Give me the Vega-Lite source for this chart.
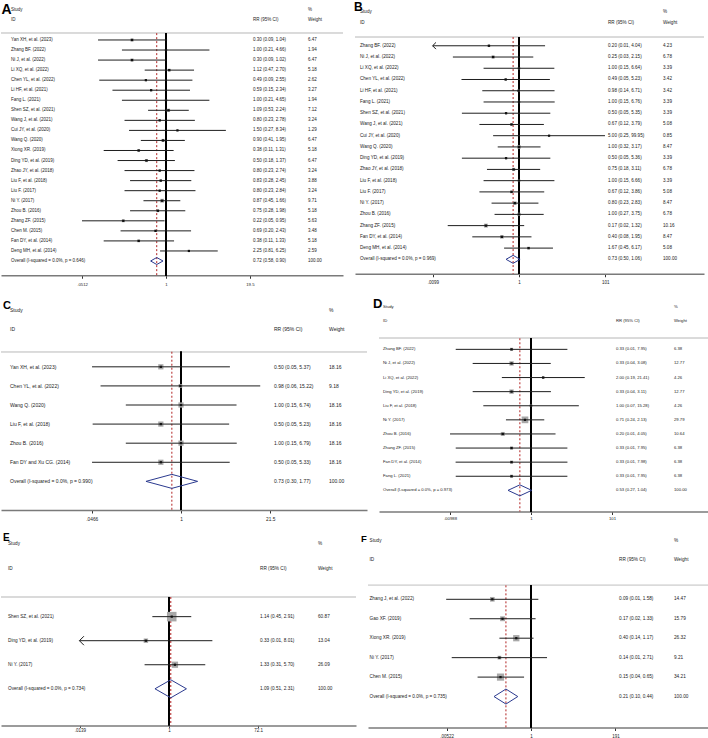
{
"$schema": "https://vega.github.io/schema/vega-lite/v6.json",
"padding": 0,
"background": "white",
"spacing": 11,
"config": {"view": {"stroke": null}, "font": "Liberation Sans", "text": {"font": "Liberation Sans"}, "axis": {"labelFont": "Liberation Sans", "grid": false, "domainColor": "#7a7a7a", "domainWidth": 1.5, "tickColor": "#333333", "tickWidth": 1, "labelColor": "#222222", "labelFlush": false, "labelOverlap": false}},
"vconcat": [
{"hconcat": [
{
"width": 342, "height": 271.25,
"data": {"values": [
{"id": "Study", "h3": "%"},
{"id": "ID", "h2": "RR (95% CI)", "h3": "Weight"},
{"id": " "},
{"id": "Yan XH, et al. (2023)", "rr": 0.30, "lo": 0.09, "hi": 1.04, "w": 6.47},
{"id": "Zhang BF. (2022)", "rr": 1.00, "lo": 0.21, "hi": 4.66, "w": 1.94},
{"id": "Ni J, et al. (2022)", "rr": 0.30, "lo": 0.09, "hi": 1.02, "w": 6.47},
{"id": "Li XQ, et al. (2022)", "rr": 1.12, "lo": 0.47, "hi": 2.70, "w": 5.18},
{"id": "Chen YL, et al. (2022)", "rr": 0.49, "lo": 0.094, "hi": 2.55, "w": 2.62},
{"id": "Li HF, et al. (2021)", "rr": 0.59, "lo": 0.15, "hi": 2.34, "w": 3.27},
{"id": "Fang L. (2021)", "rr": 1.00, "lo": 0.21, "hi": 4.65, "w": 1.94},
{"id": "Shen SZ, et al. (2021)", "rr": 1.09, "lo": 0.53, "hi": 2.24, "w": 7.12},
{"id": "Wang J, et al. (2021)", "rr": 0.80, "lo": 0.23, "hi": 2.78, "w": 3.24},
{"id": "Cui JY, et al. (2020)", "rr": 1.50, "lo": 0.27, "hi": 8.34, "w": 1.29},
{"id": "Wang Q. (2020)", "rr": 0.90, "lo": 0.41, "hi": 1.95, "w": 6.47},
{"id": "Xiong XR. (2019)", "rr": 0.38, "lo": 0.11, "hi": 1.31, "w": 5.18},
{"id": "Ding YD, et al. (2019)", "rr": 0.50, "lo": 0.18, "hi": 1.37, "w": 6.47},
{"id": "Zhao JY, et al. (2018)", "rr": 0.80, "lo": 0.23, "hi": 2.74, "w": 3.24},
{"id": "Liu F, et al. (2018)", "rr": 0.83, "lo": 0.28, "hi": 2.45, "w": 3.88},
{"id": "Liu F. (2017)", "rr": 0.80, "lo": 0.23, "hi": 2.84, "w": 3.24},
{"id": "Ni Y. (2017)", "rr": 0.87, "lo": 0.45, "hi": 1.66, "w": 9.71},
{"id": "Zhou B. (2016)", "rr": 0.75, "lo": 0.28, "hi": 1.98, "w": 5.18},
{"id": "Zhang ZF. (2015)", "rr": 0.22, "lo": 0.051, "hi": 0.95, "w": 5.63},
{"id": "Chen M. (2015)", "rr": 0.69, "lo": 0.20, "hi": 2.43, "w": 3.48},
{"id": "Fan DY, et al. (2014)", "rr": 0.38, "lo": 0.11, "hi": 1.33, "w": 5.18},
{"id": "Deng MH, et al. (2014)", "rr": 2.25, "lo": 0.81, "hi": 6.25, "w": 2.59},
{"id": "Overall  (I-squared = 0.0%, p = 0.646)", "rr": 0.72, "lo": 0.58, "hi": 0.90, "w": 100, "ov": true}
]},
"transform": [
{"calculate": "isValid(datum.rr) ? format(datum.rr,'.2f') + ' (' + format(datum.lo,'.2f') + ', ' + format(datum.hi,'.2f') + ')' : (datum.h2 || '')", "as": "t2"},
{"calculate": "isValid(datum.w) ? format(datum.w,'.2f') : (datum.h3 || '')", "as": "t3"}
],
"encoding": {"y": {"field": "id", "type": "nominal", "sort": null, "axis": null, "scale": {"type": "point", "padding": 1.4103, "align": 0.2909}}},
"layer": [
{"layer": [
{"mark": {"type": "text", "align": "left", "baseline": "middle", "fontSize": 4.5, "color": "#222222"}, "encoding": {"x": {"datum": 2.92, "type": "quantitative", "scale": {"domain": [0, 100], "nice": false}, "axis": null}, "text": {"field": "id"}}},
{"mark": {"type": "text", "align": "left", "baseline": "middle", "fontSize": 4.5, "color": "#222222"}, "encoding": {"x": {"datum": 73.68, "type": "quantitative"}, "text": {"field": "t2"}}},
{"mark": {"type": "text", "align": "left", "baseline": "middle", "fontSize": 4.5, "color": "#222222"}, "encoding": {"x": {"datum": 89.77, "type": "quantitative"}, "text": {"field": "t3"}}},
{"data": {"values": [{"panel": "A"}]}, "mark": {"type": "text", "align": "left", "baseline": "alphabetic", "fontSize": 14, "fontWeight": "bold", "color": "#000000", "dy": 4}, "encoding": {"x": {"datum": 0.15, "type": "quantitative"}, "y": {"datum": "Study", "type": "nominal"}, "text": {"field": "panel"}}}
]},
{"layer": [
{"mark": {"type": "rule", "color": "#dadada", "strokeWidth": 1, "yOffset": 3.2}, "encoding": {"y": {"datum": " ", "type": "nominal"}}},
{"mark": {"type": "rule", "color": "#000000", "strokeWidth": 1, "yOffset": 3.2}, "encoding": {"x": {"datum": 1, "type": "quantitative", "title": null, "scale": {"type": "log", "domain": [0.002893, 528.6], "nice": false}, "axis": {"orient": "bottom", "values": [0.0512, 1, 19.5], "format": "~g", "labelExpr": "replace(datum.label, '0.', '.')", "labelFontSize": 4.3, "labelPadding": 4, "tickSize": 3, "title": null}}, "y": {"datum": " ", "type": "nominal"}, "y2": {"value": "height"}}},
{"transform": [{"filter": "datum.ov === true"}], "mark": {"type": "rule", "color": "#b22222", "strokeWidth": 1, "strokeDash": [2, 2], "yOffset": 3.2}, "encoding": {"x": {"field": "rr", "type": "quantitative", "title": null}, "y": {"datum": " ", "type": "nominal"}, "y2": {"value": "height"}}},
{"transform": [{"filter": "isValid(datum.rr) && datum.ov !== true"}], "mark": {"type": "point", "shape": "square", "filled": true, "color": "#a8a8a8", "opacity": 1}, "encoding": {"x": {"field": "rr", "type": "quantitative", "title": null}, "size": {"field": "w", "type": "quantitative", "scale": {"domain": [0, 10], "range": [0, 90]}, "legend": null}}},
{"transform": [{"filter": "isValid(datum.rr) && datum.ov !== true"}], "mark": {"type": "rule", "color": "#1e1e1e", "strokeWidth": 1}, "encoding": {"x": {"field": "lo", "type": "quantitative", "title": null}, "x2": {"field": "hi"}}},
{"transform": [{"filter": "isValid(datum.rr) && datum.ov !== true"}], "mark": {"type": "point", "shape": "square", "filled": true, "color": "#111111", "size": 5, "opacity": 1}, "encoding": {"x": {"field": "rr", "type": "quantitative", "title": null}}},
{"transform": [{"filter": "datum.ov === true"}], "mark": {"type": "rule", "color": "#2b3a8f", "strokeWidth": 1, "y2Offset": -3.5}, "encoding": {"x": {"field": "lo", "type": "quantitative", "title": null}, "x2": {"field": "rr"}, "y2": {"field": "id"}}},
{"transform": [{"filter": "datum.ov === true"}], "mark": {"type": "rule", "color": "#2b3a8f", "strokeWidth": 1, "y2Offset": 3.5}, "encoding": {"x": {"field": "lo", "type": "quantitative", "title": null}, "x2": {"field": "rr"}, "y2": {"field": "id"}}},
{"transform": [{"filter": "datum.ov === true"}], "mark": {"type": "rule", "color": "#2b3a8f", "strokeWidth": 1, "yOffset": -3.5}, "encoding": {"x": {"field": "rr", "type": "quantitative", "title": null}, "x2": {"field": "hi"}, "y2": {"field": "id"}}},
{"transform": [{"filter": "datum.ov === true"}], "mark": {"type": "rule", "color": "#2b3a8f", "strokeWidth": 1, "yOffset": 3.5}, "encoding": {"x": {"field": "rr", "type": "quantitative", "title": null}, "x2": {"field": "hi"}, "y2": {"field": "id"}}}
]}
],
"resolve": {"scale": {"x": "independent"}}
},
{
"width": 349, "height": 269.76,
"data": {"values": [
{"id": "Study", "h3": "%"},
{"id": "ID", "h2": "RR (95% CI)", "h3": "Weight"},
{"id": " "},
{"id": "Zhang BF. (2022)", "rr": 0.20, "lo": 0.0098, "hi": 4.04, "w": 4.23},
{"id": "Ni J, et al. (2022)", "rr": 0.25, "lo": 0.029, "hi": 2.15, "w": 6.78},
{"id": "Li XQ, et al. (2022)", "rr": 1.00, "lo": 0.15, "hi": 6.64, "w": 3.39},
{"id": "Chen YL, et al. (2022)", "rr": 0.49, "lo": 0.046, "hi": 5.23, "w": 3.42},
{"id": "Li HF, et al. (2021)", "rr": 0.98, "lo": 0.14, "hi": 6.71, "w": 3.42},
{"id": "Fang L. (2021)", "rr": 1.00, "lo": 0.15, "hi": 6.76, "w": 3.39},
{"id": "Shen SZ, et al. (2021)", "rr": 0.50, "lo": 0.047, "hi": 5.35, "w": 3.39},
{"id": "Wang J, et al. (2021)", "rr": 0.67, "lo": 0.12, "hi": 3.79, "w": 5.08},
{"id": "Cui JY, et al. (2020)", "rr": 5.00, "lo": 0.25, "hi": 99.95, "w": 0.85},
{"id": "Wang Q. (2020)", "rr": 1.00, "lo": 0.32, "hi": 3.17, "w": 8.47},
{"id": "Ding YD, et al. (2019)", "rr": 0.50, "lo": 0.047, "hi": 5.36, "w": 3.39},
{"id": "Zhao JY, et al. (2018)", "rr": 0.75, "lo": 0.18, "hi": 3.11, "w": 6.78},
{"id": "Liu F, et al. (2018)", "rr": 1.00, "lo": 0.15, "hi": 6.66, "w": 3.39},
{"id": "Liu F. (2017)", "rr": 0.67, "lo": 0.12, "hi": 3.86, "w": 5.08},
{"id": "Ni Y. (2017)", "rr": 0.80, "lo": 0.23, "hi": 2.83, "w": 8.47},
{"id": "Zhou B. (2016)", "rr": 1.00, "lo": 0.27, "hi": 3.75, "w": 6.78},
{"id": "Zhang ZF. (2015)", "rr": 0.17, "lo": 0.022, "hi": 1.32, "w": 10.16},
{"id": "Fan DY, et al. (2014)", "rr": 0.40, "lo": 0.082, "hi": 1.95, "w": 8.47},
{"id": "Deng MH, et al. (2014)", "rr": 1.67, "lo": 0.45, "hi": 6.17, "w": 5.08},
{"id": "Overall  (I-squared = 0.0%, p = 0.969)", "rr": 0.73, "lo": 0.50, "hi": 1.06, "w": 100, "ov": true}
]},
"transform": [
{"calculate": "isValid(datum.rr) ? format(datum.rr,'.2f') + ' (' + format(datum.lo,'.2f') + ', ' + format(datum.hi,'.2f') + ')' : (datum.h2 || '')", "as": "t2"},
{"calculate": "isValid(datum.w) ? format(datum.w,'.2f') : (datum.h3 || '')", "as": "t3"}
],
"encoding": {"y": {"field": "id", "type": "nominal", "sort": null, "axis": null, "scale": {"type": "point", "padding": 1.5587, "align": 0.3584}}},
"layer": [
{"layer": [
{"mark": {"type": "text", "align": "left", "baseline": "middle", "fontSize": 4.6, "color": "#222222"}, "encoding": {"x": {"datum": 1.43, "type": "quantitative", "scale": {"domain": [0, 100], "nice": false}, "axis": null}, "text": {"field": "id"}}},
{"mark": {"type": "text", "align": "left", "baseline": "middle", "fontSize": 4.6, "color": "#222222"}, "encoding": {"x": {"datum": 72.49, "type": "quantitative"}, "text": {"field": "t2"}}},
{"mark": {"type": "text", "align": "left", "baseline": "middle", "fontSize": 4.6, "color": "#222222"}, "encoding": {"x": {"datum": 88.25, "type": "quantitative"}, "text": {"field": "t3"}}},
{"data": {"values": [{"panel": "B"}]}, "mark": {"type": "text", "align": "left", "baseline": "alphabetic", "fontSize": 12, "fontWeight": "bold", "color": "#000000", "dy": -1.5}, "encoding": {"x": {"datum": -0.3, "type": "quantitative"}, "y": {"datum": "Study", "type": "nominal"}, "text": {"field": "panel"}}}
]},
{"layer": [
{"mark": {"type": "rule", "color": "#dadada", "strokeWidth": 1, "yOffset": 2.5}, "encoding": {"y": {"datum": " ", "type": "nominal"}}},
{"mark": {"type": "rule", "color": "#000000", "strokeWidth": 1, "yOffset": 2.5}, "encoding": {"x": {"datum": 1, "type": "quantitative", "title": null, "scale": {"type": "log", "domain": [0.0001535, 20060], "nice": false}, "axis": {"orient": "bottom", "values": [0.0099, 1, 101], "format": "~g", "labelExpr": "replace(datum.label, '0.', '.')", "labelFontSize": 4.5, "labelPadding": 2.5, "tickSize": 3, "title": null}}, "y": {"datum": " ", "type": "nominal"}, "y2": {"value": "height"}}},
{"transform": [{"filter": "datum.ov === true"}], "mark": {"type": "rule", "color": "#b22222", "strokeWidth": 1, "strokeDash": [2, 2], "yOffset": 2.5}, "encoding": {"x": {"field": "rr", "type": "quantitative", "title": null}, "y": {"datum": " ", "type": "nominal"}, "y2": {"value": "height"}}},
{"transform": [{"filter": "isValid(datum.rr) && datum.ov !== true"}], "mark": {"type": "point", "shape": "square", "filled": true, "color": "#a8a8a8", "opacity": 1}, "encoding": {"x": {"field": "rr", "type": "quantitative", "title": null}, "size": {"field": "w", "type": "quantitative", "scale": {"domain": [0, 10], "range": [0, 135]}, "legend": null}}},
{"transform": [{"filter": "isValid(datum.rr) && datum.ov !== true"}], "mark": {"type": "rule", "color": "#1e1e1e", "strokeWidth": 1}, "encoding": {"x": {"field": "lo", "type": "quantitative", "title": null}, "x2": {"field": "hi"}}},
{"transform": [{"filter": "isValid(datum.rr) && datum.ov !== true"}], "mark": {"type": "point", "shape": "square", "filled": true, "color": "#111111", "size": 5, "opacity": 1}, "encoding": {"x": {"field": "rr", "type": "quantitative", "title": null}}},
{"transform": [{"filter": "isValid(datum.lo) && datum.lo < 0.0099"}], "mark": {"type": "point", "shape": "M1,-1L0,0L1,1", "filled": false, "stroke": "#1e1e1e", "strokeWidth": 1, "size": 45, "opacity": 1}, "encoding": {"x": {"field": "lo", "type": "quantitative", "title": null}}},
{"transform": [{"filter": "datum.ov === true"}], "mark": {"type": "rule", "color": "#2b3a8f", "strokeWidth": 1, "y2Offset": -4}, "encoding": {"x": {"field": "lo", "type": "quantitative", "title": null}, "x2": {"field": "rr"}, "y2": {"field": "id"}}},
{"transform": [{"filter": "datum.ov === true"}], "mark": {"type": "rule", "color": "#2b3a8f", "strokeWidth": 1, "y2Offset": 4}, "encoding": {"x": {"field": "lo", "type": "quantitative", "title": null}, "x2": {"field": "rr"}, "y2": {"field": "id"}}},
{"transform": [{"filter": "datum.ov === true"}], "mark": {"type": "rule", "color": "#2b3a8f", "strokeWidth": 1, "yOffset": -4}, "encoding": {"x": {"field": "rr", "type": "quantitative", "title": null}, "x2": {"field": "hi"}, "y2": {"field": "id"}}},
{"transform": [{"filter": "datum.ov === true"}], "mark": {"type": "rule", "color": "#2b3a8f", "strokeWidth": 1, "yOffset": 4}, "encoding": {"x": {"field": "rr", "type": "quantitative", "title": null}, "x2": {"field": "hi"}, "y2": {"field": "id"}}}
]}
],
"resolve": {"scale": {"x": "independent"}}
}
], "spacing": 12, "bounds": "flush"},
{"hconcat": [
{
"width": 366, "height": 210,
"data": {"values": [
{"id": "Study", "h3": "%"},
{"id": "ID", "h2": "RR (95% CI)", "h3": "Weight"},
{"id": " "},
{"id": "Yan XH, et al. (2023)", "rr": 0.50, "lo": 0.047, "hi": 5.37, "w": 18.16},
{"id": "Chen YL, et al. (2022)", "rr": 0.98, "lo": 0.063, "hi": 15.22, "w": 9.18},
{"id": "Wang Q. (2020)", "rr": 1.00, "lo": 0.15, "hi": 6.74, "w": 18.16},
{"id": "Liu F, et al. (2018)", "rr": 0.50, "lo": 0.048, "hi": 5.23, "w": 18.16},
{"id": "Zhou B. (2016)", "rr": 1.00, "lo": 0.15, "hi": 6.79, "w": 18.16},
{"id": "Fan DY and Xu CG. (2014)", "rr": 0.50, "lo": 0.047, "hi": 5.33, "w": 18.16},
{"id": "Overall  (I-squared = 0.0%, p = 0.990)", "rr": 0.73, "lo": 0.30, "hi": 1.77, "w": 100, "ov": true}
]},
"transform": [
{"calculate": "isValid(datum.rr) ? format(datum.rr,'.2f') + ' (' + format(datum.lo,'.2f') + ', ' + format(datum.hi,'.2f') + ')' : (datum.h2 || '')", "as": "t2"},
{"calculate": "isValid(datum.w) ? format(datum.w,'.2f') : (datum.h3 || '')", "as": "t3"}
],
"encoding": {"y": {"field": "id", "type": "nominal", "sort": null, "axis": null, "scale": {"type": "point", "padding": 1.3333, "align": 0.25}}},
"layer": [
{"layer": [
{"mark": {"type": "text", "align": "left", "baseline": "middle", "fontSize": 5, "color": "#222222"}, "encoding": {"x": {"datum": 2.46, "type": "quantitative", "scale": {"domain": [0, 100], "nice": false}, "axis": null}, "text": {"field": "id"}}},
{"mark": {"type": "text", "align": "left", "baseline": "middle", "fontSize": 5, "color": "#222222"}, "encoding": {"x": {"datum": 74.59, "type": "quantitative"}, "text": {"field": "t2"}}},
{"mark": {"type": "text", "align": "left", "baseline": "middle", "fontSize": 5, "color": "#222222"}, "encoding": {"x": {"datum": 89.62, "type": "quantitative"}, "text": {"field": "t3"}}},
{"data": {"values": [{"panel": "C"}]}, "mark": {"type": "text", "align": "left", "baseline": "alphabetic", "fontSize": 11, "fontWeight": "bold", "color": "#000000", "dy": -1}, "encoding": {"x": {"datum": 0.55, "type": "quantitative"}, "y": {"datum": "Study", "type": "nominal"}, "text": {"field": "panel"}}}
]},
{"layer": [
{"mark": {"type": "rule", "color": "#dadada", "strokeWidth": 1, "yOffset": 4}, "encoding": {"y": {"datum": " ", "type": "nominal"}}},
{"mark": {"type": "rule", "color": "#000000", "strokeWidth": 1, "yOffset": 4}, "encoding": {"x": {"datum": 1, "type": "quantitative", "title": null, "scale": {"type": "log", "domain": [0.002058, 597], "nice": false}, "axis": {"orient": "bottom", "values": [0.0466, 1, 21.5], "format": "~g", "labelExpr": "replace(datum.label, '0.', '.')", "labelFontSize": 4.8, "labelPadding": 3, "tickSize": 3, "title": null}}, "y": {"datum": " ", "type": "nominal"}, "y2": {"value": "height"}}},
{"transform": [{"filter": "datum.ov === true"}], "mark": {"type": "rule", "color": "#b22222", "strokeWidth": 1, "strokeDash": [2, 2], "yOffset": 4}, "encoding": {"x": {"field": "rr", "type": "quantitative", "title": null}, "y": {"datum": " ", "type": "nominal"}, "y2": {"value": "height"}}},
{"transform": [{"filter": "isValid(datum.rr) && datum.ov !== true"}], "mark": {"type": "point", "shape": "square", "filled": true, "color": "#a8a8a8", "opacity": 1}, "encoding": {"x": {"field": "rr", "type": "quantitative", "title": null}, "size": {"field": "w", "type": "quantitative", "scale": {"domain": [0, 20], "range": [0, 20.6]}, "legend": null}}},
{"transform": [{"filter": "isValid(datum.rr) && datum.ov !== true"}], "mark": {"type": "rule", "color": "#1e1e1e", "strokeWidth": 1}, "encoding": {"x": {"field": "lo", "type": "quantitative", "title": null}, "x2": {"field": "hi"}}},
{"transform": [{"filter": "isValid(datum.rr) && datum.ov !== true"}], "mark": {"type": "point", "shape": "square", "filled": true, "color": "#111111", "size": 5, "opacity": 1}, "encoding": {"x": {"field": "rr", "type": "quantitative", "title": null}}},
{"transform": [{"filter": "datum.ov === true"}], "mark": {"type": "rule", "color": "#2b3a8f", "strokeWidth": 1, "y2Offset": -7}, "encoding": {"x": {"field": "lo", "type": "quantitative", "title": null}, "x2": {"field": "rr"}, "y2": {"field": "id"}}},
{"transform": [{"filter": "datum.ov === true"}], "mark": {"type": "rule", "color": "#2b3a8f", "strokeWidth": 1, "y2Offset": 7}, "encoding": {"x": {"field": "lo", "type": "quantitative", "title": null}, "x2": {"field": "rr"}, "y2": {"field": "id"}}},
{"transform": [{"filter": "datum.ov === true"}], "mark": {"type": "rule", "color": "#2b3a8f", "strokeWidth": 1, "yOffset": -7}, "encoding": {"x": {"field": "rr", "type": "quantitative", "title": null}, "x2": {"field": "hi"}, "y2": {"field": "id"}}},
{"transform": [{"filter": "datum.ov === true"}], "mark": {"type": "rule", "color": "#2b3a8f", "strokeWidth": 1, "yOffset": 7}, "encoding": {"x": {"field": "rr", "type": "quantitative", "title": null}, "x2": {"field": "hi"}, "y2": {"field": "id"}}}
]}
],
"resolve": {"scale": {"x": "independent"}}
},
{
"width": 330, "height": 211.5,
"data": {"values": [
{"id": "Study", "h3": "%"},
{"id": "ID", "h2": "RR (95% CI)", "h3": "Weight"},
{"id": " "},
{"id": "Zhang BF. (2022)", "rr": 0.33, "lo": 0.0137, "hi": 7.95, "w": 6.38},
{"id": "Ni J, et al. (2022)", "rr": 0.33, "lo": 0.036, "hi": 3.08, "w": 12.77},
{"id": "Li XQ, et al. (2022)", "rr": 2.00, "lo": 0.19, "hi": 21.41, "w": 4.26},
{"id": "Ding YD, et al. (2019)", "rr": 0.33, "lo": 0.036, "hi": 3.11, "w": 12.77},
{"id": "Liu F, et al. (2018)", "rr": 1.00, "lo": 0.066, "hi": 15.28, "w": 4.26},
{"id": "Ni Y. (2017)", "rr": 0.71, "lo": 0.24, "hi": 2.13, "w": 29.79},
{"id": "Zhou B. (2016)", "rr": 0.20, "lo": 0.0099, "hi": 4.05, "w": 10.64},
{"id": "Zhang ZF. (2015)", "rr": 0.33, "lo": 0.0137, "hi": 7.95, "w": 6.38},
{"id": "Fan DY, et al. (2014)", "rr": 0.33, "lo": 0.0136, "hi": 7.98, "w": 6.38},
{"id": "Fang L. (2021)", "rr": 0.33, "lo": 0.0137, "hi": 7.95, "w": 6.38},
{"id": "Overall  (I-squared = 0.0%, p = 0.973)", "rr": 0.53, "lo": 0.27, "hi": 1.04, "w": 100, "ov": true}
]},
"transform": [
{"calculate": "isValid(datum.rr) ? format(datum.rr,'.2f') + ' (' + format(datum.lo,'.2f') + ', ' + format(datum.hi,'.2f') + ')' : (datum.h2 || '')", "as": "t2"},
{"calculate": "isValid(datum.w) ? format(datum.w,'.2f') : (datum.h3 || '')", "as": "t3"}
],
"encoding": {"y": {"field": "id", "type": "nominal", "sort": null, "axis": null, "scale": {"type": "point", "padding": 1.3333, "align": 0.25}}},
"layer": [
{"layer": [
{"mark": {"type": "text", "align": "left", "baseline": "middle", "fontSize": 4.2, "color": "#222222"}, "encoding": {"x": {"datum": 1.21, "type": "quantitative", "scale": {"domain": [0, 100], "nice": false}, "axis": null}, "text": {"field": "id"}}},
{"mark": {"type": "text", "align": "left", "baseline": "middle", "fontSize": 4.2, "color": "#222222"}, "encoding": {"x": {"datum": 71.82, "type": "quantitative"}, "text": {"field": "t2"}}},
{"mark": {"type": "text", "align": "left", "baseline": "middle", "fontSize": 4.2, "color": "#222222"}, "encoding": {"x": {"datum": 89.39, "type": "quantitative"}, "text": {"field": "t3"}}},
{"data": {"values": [{"panel": "D"}]}, "mark": {"type": "text", "align": "left", "baseline": "alphabetic", "fontSize": 13, "fontWeight": "bold", "color": "#000000", "dy": 1}, "encoding": {"x": {"datum": -1.82, "type": "quantitative"}, "y": {"datum": "Study", "type": "nominal"}, "text": {"field": "panel"}}}
]},
{"layer": [
{"mark": {"type": "rule", "color": "#dadada", "strokeWidth": 1, "yOffset": 3}, "encoding": {"y": {"datum": " ", "type": "nominal"}}},
{"mark": {"type": "rule", "color": "#000000", "strokeWidth": 1, "yOffset": 3}, "encoding": {"x": {"datum": 1, "type": "quantitative", "title": null, "scale": {"type": "log", "domain": [0.0001728, 25460], "nice": false}, "axis": {"orient": "bottom", "values": [0.00988, 1, 101], "format": "~g", "labelExpr": "replace(datum.label, '0.', '.')", "labelFontSize": 4.3, "labelPadding": 1.5, "tickSize": 3, "title": null}}, "y": {"datum": " ", "type": "nominal"}, "y2": {"value": "height"}}},
{"transform": [{"filter": "datum.ov === true"}], "mark": {"type": "rule", "color": "#b22222", "strokeWidth": 1, "strokeDash": [2, 2], "yOffset": 3}, "encoding": {"x": {"field": "rr", "type": "quantitative", "title": null}, "y": {"datum": " ", "type": "nominal"}, "y2": {"value": "height"}}},
{"transform": [{"filter": "isValid(datum.rr) && datum.ov !== true"}], "mark": {"type": "point", "shape": "square", "filled": true, "color": "#a8a8a8", "opacity": 1}, "encoding": {"x": {"field": "rr", "type": "quantitative", "title": null}, "size": {"field": "w", "type": "quantitative", "scale": {"domain": [0, 30], "range": [0, 54]}, "legend": null}}},
{"transform": [{"filter": "isValid(datum.rr) && datum.ov !== true"}], "mark": {"type": "rule", "color": "#1e1e1e", "strokeWidth": 1}, "encoding": {"x": {"field": "lo", "type": "quantitative", "title": null}, "x2": {"field": "hi"}}},
{"transform": [{"filter": "isValid(datum.rr) && datum.ov !== true"}], "mark": {"type": "point", "shape": "square", "filled": true, "color": "#111111", "size": 5, "opacity": 1}, "encoding": {"x": {"field": "rr", "type": "quantitative", "title": null}}},
{"transform": [{"filter": "datum.ov === true"}], "mark": {"type": "rule", "color": "#2b3a8f", "strokeWidth": 1, "y2Offset": -5.5}, "encoding": {"x": {"field": "lo", "type": "quantitative", "title": null}, "x2": {"field": "rr"}, "y2": {"field": "id"}}},
{"transform": [{"filter": "datum.ov === true"}], "mark": {"type": "rule", "color": "#2b3a8f", "strokeWidth": 1, "y2Offset": 5.5}, "encoding": {"x": {"field": "lo", "type": "quantitative", "title": null}, "x2": {"field": "rr"}, "y2": {"field": "id"}}},
{"transform": [{"filter": "datum.ov === true"}], "mark": {"type": "rule", "color": "#2b3a8f", "strokeWidth": 1, "yOffset": -5.5}, "encoding": {"x": {"field": "rr", "type": "quantitative", "title": null}, "x2": {"field": "hi"}, "y2": {"field": "id"}}},
{"transform": [{"filter": "datum.ov === true"}], "mark": {"type": "rule", "color": "#2b3a8f", "strokeWidth": 1, "yOffset": 5.5}, "encoding": {"x": {"field": "rr", "type": "quantitative", "title": null}, "x2": {"field": "hi"}, "y2": {"field": "id"}}}
]}
],
"resolve": {"scale": {"x": "independent"}}
}
], "spacing": 12, "bounds": "flush"},
{"hconcat": [
{
"width": 355, "height": 192.4,
"data": {"values": [
{"id": "Study", "h3": "%"},
{"id": "ID", "h2": "RR (95% CI)", "h3": "Weight"},
{"id": " "},
{"id": "Shen SZ, et al. (2021)", "rr": 1.14, "lo": 0.45, "hi": 2.91, "w": 60.87},
{"id": "Ding YD, et al. (2019)", "rr": 0.33, "lo": 0.0136, "hi": 8.01, "w": 13.04},
{"id": "Ni Y. (2017)", "rr": 1.33, "lo": 0.31, "hi": 5.70, "w": 26.09},
{"id": "Overall  (I-squared = 0.0%, p = 0.734)", "rr": 1.09, "lo": 0.51, "hi": 2.31, "w": 100, "ov": true}
]},
"transform": [
{"calculate": "isValid(datum.rr) ? format(datum.rr,'.2f') + ' (' + format(datum.lo,'.2f') + ', ' + format(datum.hi,'.2f') + ')' : (datum.h2 || '')", "as": "t2"},
{"calculate": "isValid(datum.w) ? format(datum.w,'.2f') : (datum.h3 || '')", "as": "t3"}
],
"encoding": {"y": {"field": "id", "type": "nominal", "sort": null, "axis": null, "scale": {"type": "point", "padding": 1.3139, "align": 0.2389}}},
"layer": [
{"layer": [
{"mark": {"type": "text", "align": "left", "baseline": "middle", "fontSize": 4.7, "color": "#222222"}, "encoding": {"x": {"datum": 1.97, "type": "quantitative", "scale": {"domain": [0, 100], "nice": false}, "axis": null}, "text": {"field": "id"}}},
{"mark": {"type": "text", "align": "left", "baseline": "middle", "fontSize": 4.7, "color": "#222222"}, "encoding": {"x": {"datum": 72.96, "type": "quantitative"}, "text": {"field": "t2"}}},
{"mark": {"type": "text", "align": "left", "baseline": "middle", "fontSize": 4.7, "color": "#222222"}, "encoding": {"x": {"datum": 89.30, "type": "quantitative"}, "text": {"field": "t3"}}},
{"data": {"values": [{"panel": "E"}]}, "mark": {"type": "text", "align": "left", "baseline": "alphabetic", "fontSize": 10, "fontWeight": "bold", "color": "#000000", "dy": -3.5}, "encoding": {"x": {"datum": 0.56, "type": "quantitative"}, "y": {"datum": "Study", "type": "nominal"}, "text": {"field": "panel"}}}
]},
{"layer": [
{"mark": {"type": "rule", "color": "#dadada", "strokeWidth": 1, "yOffset": 4.4}, "encoding": {"y": {"datum": " ", "type": "nominal"}}},
{"mark": {"type": "rule", "color": "#000000", "strokeWidth": 1, "yOffset": 4.4}, "encoding": {"x": {"datum": 1, "type": "quantitative", "title": null, "scale": {"type": "log", "domain": [0.0003162, 7870], "nice": false}, "axis": {"orient": "bottom", "values": [0.0139, 1, 72.1], "format": "~g", "labelExpr": "replace(datum.label, '0.', '.')", "labelFontSize": 4.5, "labelPadding": 0, "tickSize": 2, "title": null}}, "y": {"datum": " ", "type": "nominal"}, "y2": {"value": "height"}}},
{"transform": [{"filter": "datum.ov === true"}], "mark": {"type": "rule", "color": "#b22222", "strokeWidth": 1, "strokeDash": [2, 2], "yOffset": 4.4}, "encoding": {"x": {"field": "rr", "type": "quantitative", "title": null}, "y": {"datum": " ", "type": "nominal"}, "y2": {"value": "height"}}},
{"transform": [{"filter": "isValid(datum.rr) && datum.ov !== true"}], "mark": {"type": "point", "shape": "square", "filled": true, "color": "#a8a8a8", "opacity": 1}, "encoding": {"x": {"field": "rr", "type": "quantitative", "title": null}, "size": {"field": "w", "type": "quantitative", "scale": {"domain": [0, 60], "range": [0, 32]}, "legend": null}}},
{"transform": [{"filter": "isValid(datum.rr) && datum.ov !== true"}], "mark": {"type": "rule", "color": "#1e1e1e", "strokeWidth": 1}, "encoding": {"x": {"field": "lo", "type": "quantitative", "title": null}, "x2": {"field": "hi"}}},
{"transform": [{"filter": "isValid(datum.rr) && datum.ov !== true"}], "mark": {"type": "point", "shape": "square", "filled": true, "color": "#111111", "size": 5, "opacity": 1}, "encoding": {"x": {"field": "rr", "type": "quantitative", "title": null}}},
{"transform": [{"filter": "isValid(datum.lo) && datum.lo < 0.0139"}], "mark": {"type": "point", "shape": "M1,-1L0,0L1,1", "filled": false, "stroke": "#1e1e1e", "strokeWidth": 1, "size": 81, "opacity": 1}, "encoding": {"x": {"field": "lo", "type": "quantitative", "title": null}}},
{"transform": [{"filter": "datum.ov === true"}], "mark": {"type": "rule", "color": "#2b3a8f", "strokeWidth": 1, "y2Offset": -9}, "encoding": {"x": {"field": "lo", "type": "quantitative", "title": null}, "x2": {"field": "rr"}, "y2": {"field": "id"}}},
{"transform": [{"filter": "datum.ov === true"}], "mark": {"type": "rule", "color": "#2b3a8f", "strokeWidth": 1, "y2Offset": 9}, "encoding": {"x": {"field": "lo", "type": "quantitative", "title": null}, "x2": {"field": "rr"}, "y2": {"field": "id"}}},
{"transform": [{"filter": "datum.ov === true"}], "mark": {"type": "rule", "color": "#2b3a8f", "strokeWidth": 1, "yOffset": -9}, "encoding": {"x": {"field": "rr", "type": "quantitative", "title": null}, "x2": {"field": "hi"}, "y2": {"field": "id"}}},
{"transform": [{"filter": "datum.ov === true"}], "mark": {"type": "rule", "color": "#2b3a8f", "strokeWidth": 1, "yOffset": 9}, "encoding": {"x": {"field": "rr", "type": "quantitative", "title": null}, "x2": {"field": "hi"}, "y2": {"field": "id"}}}
]}
],
"resolve": {"scale": {"x": "independent"}}
},
{
"width": 341, "height": 194.5,
"data": {"values": [
{"id": "Study", "h3": "%"},
{"id": "ID", "h2": "RR (95% CI)", "h3": "Weight"},
{"id": " "},
{"id": "Zhang J, et al. (2022)", "rr": 0.09, "lo": 0.0051, "hi": 1.58, "w": 14.47},
{"id": "Gao XF. (2019)", "rr": 0.17, "lo": 0.022, "hi": 1.33, "w": 15.79},
{"id": "Xiong XR. (2019)", "rr": 0.40, "lo": 0.14, "hi": 1.17, "w": 26.32},
{"id": "Ni Y. (2017)", "rr": 0.14, "lo": 0.0072, "hi": 2.71, "w": 9.21},
{"id": "Chen M. (2015)", "rr": 0.15, "lo": 0.036, "hi": 0.65, "w": 34.21},
{"id": "Overall  (I-squared = 0.0%, p = 0.735)", "rr": 0.21, "lo": 0.10, "hi": 0.44, "w": 100, "ov": true}
]},
"transform": [
{"calculate": "isValid(datum.rr) ? format(datum.rr,'.2f') + ' (' + format(datum.lo,'.2f') + ', ' + format(datum.hi,'.2f') + ')' : (datum.h2 || '')", "as": "t2"},
{"calculate": "isValid(datum.w) ? format(datum.w,'.2f') : (datum.h3 || '')", "as": "t3"}
],
"encoding": {"y": {"field": "id", "type": "nominal", "sort": null, "axis": null, "scale": {"type": "point", "padding": 1.2568, "align": 0.2043}}},
"layer": [
{"layer": [
{"mark": {"type": "text", "align": "left", "baseline": "middle", "fontSize": 4.7, "color": "#222222"}, "encoding": {"x": {"datum": 0.44, "type": "quantitative", "scale": {"domain": [0, 100], "nice": false}, "axis": null}, "text": {"field": "id"}}},
{"mark": {"type": "text", "align": "left", "baseline": "middle", "fontSize": 4.7, "color": "#222222"}, "encoding": {"x": {"datum": 73.61, "type": "quantitative"}, "text": {"field": "t2"}}},
{"mark": {"type": "text", "align": "left", "baseline": "middle", "fontSize": 4.7, "color": "#222222"}, "encoding": {"x": {"datum": 89.74, "type": "quantitative"}, "text": {"field": "t3"}}},
{"data": {"values": [{"panel": "F"}]}, "mark": {"type": "text", "align": "left", "baseline": "alphabetic", "fontSize": 9.5, "fontWeight": "bold", "color": "#000000", "dy": 1.5}, "encoding": {"x": {"datum": -2.05, "type": "quantitative"}, "y": {"datum": "Study", "type": "nominal"}, "text": {"field": "panel"}}}
]},
{"layer": [
{"mark": {"type": "rule", "color": "#dadada", "strokeWidth": 1, "yOffset": 5.5}, "encoding": {"y": {"datum": " ", "type": "nominal"}}},
{"mark": {"type": "rule", "color": "#000000", "strokeWidth": 1, "yOffset": 5.5}, "encoding": {"x": {"datum": 1, "type": "quantitative", "title": null, "scale": {"type": "log", "domain": [0.00003931, 64700], "nice": false}, "axis": {"orient": "bottom", "values": [0.00522, 1, 191], "format": "~g", "labelExpr": "replace(datum.label, '0.', '.')", "labelFontSize": 4.5, "labelPadding": 2.5, "tickSize": 3, "title": null}}, "y": {"datum": " ", "type": "nominal"}, "y2": {"value": "height"}}},
{"transform": [{"filter": "datum.ov === true"}], "mark": {"type": "rule", "color": "#b22222", "strokeWidth": 1, "strokeDash": [2, 2], "yOffset": 5.5}, "encoding": {"x": {"field": "rr", "type": "quantitative", "title": null}, "y": {"datum": " ", "type": "nominal"}, "y2": {"value": "height"}}},
{"transform": [{"filter": "isValid(datum.rr) && datum.ov !== true"}], "mark": {"type": "point", "shape": "square", "filled": true, "color": "#a8a8a8", "opacity": 1}, "encoding": {"x": {"field": "rr", "type": "quantitative", "title": null}, "size": {"field": "w", "type": "quantitative", "scale": {"domain": [0, 35], "range": [0, 30]}, "legend": null}}},
{"transform": [{"filter": "isValid(datum.rr) && datum.ov !== true"}], "mark": {"type": "rule", "color": "#1e1e1e", "strokeWidth": 1}, "encoding": {"x": {"field": "lo", "type": "quantitative", "title": null}, "x2": {"field": "hi"}}},
{"transform": [{"filter": "isValid(datum.rr) && datum.ov !== true"}], "mark": {"type": "point", "shape": "square", "filled": true, "color": "#111111", "size": 5, "opacity": 1}, "encoding": {"x": {"field": "rr", "type": "quantitative", "title": null}}},
{"transform": [{"filter": "datum.ov === true"}], "mark": {"type": "rule", "color": "#2b3a8f", "strokeWidth": 1, "y2Offset": -7.5}, "encoding": {"x": {"field": "lo", "type": "quantitative", "title": null}, "x2": {"field": "rr"}, "y2": {"field": "id"}}},
{"transform": [{"filter": "datum.ov === true"}], "mark": {"type": "rule", "color": "#2b3a8f", "strokeWidth": 1, "y2Offset": 7.5}, "encoding": {"x": {"field": "lo", "type": "quantitative", "title": null}, "x2": {"field": "rr"}, "y2": {"field": "id"}}},
{"transform": [{"filter": "datum.ov === true"}], "mark": {"type": "rule", "color": "#2b3a8f", "strokeWidth": 1, "yOffset": -7.5}, "encoding": {"x": {"field": "rr", "type": "quantitative", "title": null}, "x2": {"field": "hi"}, "y2": {"field": "id"}}},
{"transform": [{"filter": "datum.ov === true"}], "mark": {"type": "rule", "color": "#2b3a8f", "strokeWidth": 1, "yOffset": 7.5}, "encoding": {"x": {"field": "rr", "type": "quantitative", "title": null}, "x2": {"field": "hi"}, "y2": {"field": "id"}}}
]}
],
"resolve": {"scale": {"x": "independent"}}
}
], "spacing": 12, "bounds": "flush"}
]
}
